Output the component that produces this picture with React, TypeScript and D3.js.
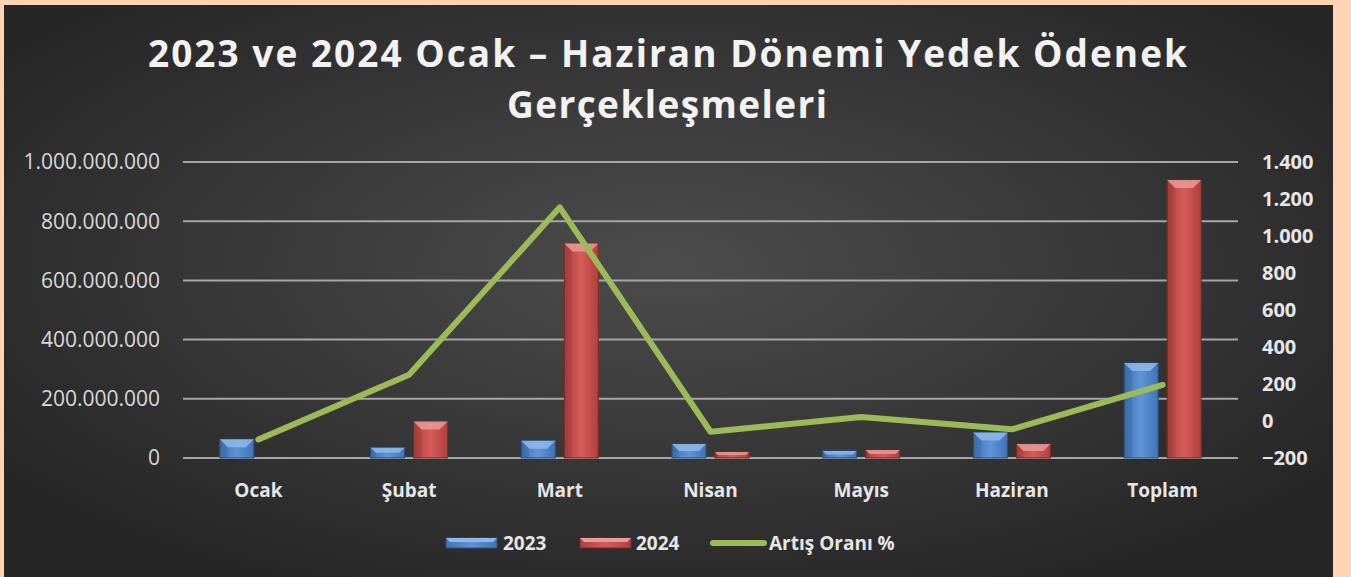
import React, { useRef, useEffect } from 'react';
import * as d3 from 'd3';

const months = ['Ocak', 'Şubat', 'Mart', 'Nisan', 'Mayıs', 'Haziran', 'Toplam'];
const values2023 = [63000000, 35000000, 58000000, 47000000, 24000000, 86000000, 321000000];
const values2024 = [0, 123000000, 725000000, 20000000, 27000000, 47000000, 939000000];
const increasePct = [-100, 250, 1155, -58, 22, -45, 195];
const leftTicks = [0, 200000000, 400000000, 600000000, 800000000, 1000000000];
const rightTicks = [-200, 0, 200, 400, 600, 800, 1000, 1200, 1400];
const seriesNames = ['2023', '2024', 'Artış Oranı %'];

const W = 1351;
const H = 577;

const fmt = (v: number) => d3.format(',')(v).replace(/,/g, '.');

const App = () => {
  const svgRef = useRef<SVGSVGElement>(null);

  useEffect(() => {
    const svg = d3.select(svgRef.current).attr('width', W).attr('height', H);
    svg.selectAll('*').remove();

    const defs = svg.append('defs');
    const bg = defs.append('radialGradient').attr('id', 'bg').attr('cx', '50%').attr('cy', '45%').attr('r', '62%');
    bg.append('stop').attr('offset', '0%').attr('stop-color', '#4c4c4c');
    bg.append('stop').attr('offset', '100%').attr('stop-color', '#262626');

    // bar gradients
    const mk = (id: string, edge: string, mid: string) => {
      const g = defs.append('linearGradient').attr('id', id).attr('x1', '0%').attr('x2', '100%');
      g.append('stop').attr('offset', '0%').attr('stop-color', edge);
      g.append('stop').attr('offset', '50%').attr('stop-color', mid);
      g.append('stop').attr('offset', '100%').attr('stop-color', edge);
    };
    mk('blue', '#3f74b6', '#5e95d8');
    mk('red', '#b0403d', '#d65c59');

    svg.append('rect').attr('width', W).attr('height', H).attr('fill', '#fdd5b4');
    svg.append('rect').attr('x', 4).attr('y', 5).attr('width', 1329).attr('height', H).attr('fill', 'url(#bg)');

    // Title
    const title = svg.append('g')
      .style('font-family', '"Open Sans", sans-serif')
      .style('font-weight', 700)
      .style('font-size', '37px')
      .attr('fill', '#f2f2f2');
    title.append('text').attr('x', 148).attr('y', 67).attr('textLength', 1039).attr('lengthAdjust', 'spacing')
      .text('2023 ve 2024 Ocak – Haziran Dönemi Yedek Ödenek');
    title.append('text').attr('x', 507).attr('y', 118).attr('textLength', 320).attr('lengthAdjust', 'spacing')
      .text('Gerçekleşmeleri');

    // Scales
    const x0 = d3.scaleBand().domain(months).range([183, 1238]);
    const yL = d3.scaleLinear().domain([0, 1000000000]).range([458, 162]);
    const yR = d3.scaleLinear().domain([-200, 1400]).range([458, 162]);
    const barW = 34;
    const gap = 9;

    // Gridlines
    svg.append('g').selectAll('line').data(leftTicks).join('line')
      .attr('x1', 183).attr('x2', 1238)
      .attr('y1', (d) => yL(d)).attr('y2', (d) => yL(d))
      .attr('stroke', '#a6a6a6').attr('stroke-width', 2);

    // Left axis
    svg.append('g').selectAll('text').data(leftTicks).join('text')
      .attr('x', 160).attr('y', (d) => yL(d)).attr('dy', '0.35em')
      .attr('text-anchor', 'end')
      .style('font-family', '"Open Sans", sans-serif').style('font-size', '21px')
      .attr('fill', '#d9d9d9')
      .text((d) => fmt(d));

    // Right axis
    svg.append('g').selectAll('text').data(rightTicks).join('text')
      .attr('x', 1262).attr('y', (d) => yR(d)).attr('dy', '0.35em')
      .style('font-family', '"Open Sans", sans-serif').style('font-size', '20px').style('font-weight', 700)
      .attr('fill', '#e6e6e6')
      .text((d) => fmt(d));

    // Category labels
    svg.append('g').selectAll('text').data(months).join('text')
      .attr('x', (d) => x0(d)! + x0.bandwidth() / 2).attr('y', 497)
      .attr('text-anchor', 'middle')
      .style('font-family', '"Open Sans", sans-serif').style('font-size', '19px').style('font-weight', 700)
      .attr('fill', '#e6e6e6')
      .text((d) => d);

    // Bars
    const drawBar = (g: any, xLeft: number, yTop: number, fill: string, bevel: string, stroke: string) => {
      const h = yL(0) - yTop;
      if (h <= 0.5) return;
      g.append('rect').attr('x', xLeft).attr('y', yTop).attr('width', barW).attr('height', h)
        .attr('fill', `url(#${fill})`).attr('stroke', stroke).attr('stroke-width', 1);
      const b = Math.min(8, h / 2);
      g.append('path')
        .attr('d', `M${xLeft},${yTop}L${xLeft + barW},${yTop}L${xLeft + barW - b},${yTop + b}L${xLeft + b},${yTop + b}Z`)
        .attr('fill', bevel).attr('opacity', 0.85);
      g.append('path')
        .attr('d', `M${xLeft},${yTop}L${xLeft + b},${yTop + b}L${xLeft + b},${yTop + h}L${xLeft},${yTop + h}Z`)
        .attr('fill', '#000').attr('opacity', 0.08);
    };
    const bars = svg.append('g');
    months.forEach((m, i) => {
      const c = x0(m)! + x0.bandwidth() / 2;
      drawBar(bars, c - gap / 2 - barW, yL(values2023[i]), 'blue', '#8fb8ea', '#2c5282');
      drawBar(bars, c + gap / 2, yL(values2024[i]), 'red', '#ea9a98', '#7e2a28');
    });

    // Line
    const line = d3.line<number>()
      .x((_, i) => x0(months[i])! + x0.bandwidth() / 2)
      .y((d) => yR(d));
    svg.append('path').datum(increasePct).attr('d', line)
      .attr('fill', 'none').attr('stroke', '#9bbb59').attr('stroke-width', 6)
      .attr('stroke-linecap', 'round').attr('stroke-linejoin', 'round');

    // Legend
    const lg = svg.append('g')
      .style('font-family', '"Open Sans", sans-serif').style('font-size', '19px').style('font-weight', 700);
    const ly = 543;
    drawLegendSwatch(lg, 446, ly, 'blue', '#8fb8ea', '#2c5282');
    lg.append('text').attr('x', 503).attr('y', ly).attr('dy', '0.35em').attr('fill', '#e6e6e6').text(seriesNames[0]);
    drawLegendSwatch(lg, 580, ly, 'red', '#ea9a98', '#7e2a28');
    lg.append('text').attr('x', 636).attr('y', ly).attr('dy', '0.35em').attr('fill', '#e6e6e6').text(seriesNames[1]);
    lg.append('line').attr('x1', 713).attr('x2', 764).attr('y1', ly).attr('y2', ly)
      .attr('stroke', '#9bbb59').attr('stroke-width', 6).attr('stroke-linecap', 'round');
    lg.append('text').attr('x', 769).attr('y', ly).attr('dy', '0.35em').attr('fill', '#e6e6e6').text(seriesNames[2]);
  }, []);

  return (
    <div style={{ position: 'fixed', left: 0, top: 0 }}>
      <svg ref={svgRef}></svg>
    </div>
  );
};

function drawLegendSwatch(g: any, x: number, y: number, fill: string, bevel: string, stroke: string) {
  g.append('rect').attr('x', x).attr('y', y - 5).attr('width', 51).attr('height', 10)
    .attr('fill', `url(#${fill})`).attr('stroke', stroke);
  g.append('path').attr('d', `M${x},${y - 5}L${x + 51},${y - 5}L${x + 47},${y - 1}L${x + 4},${y - 1}Z`)
    .attr('fill', bevel);
}

export default App;
